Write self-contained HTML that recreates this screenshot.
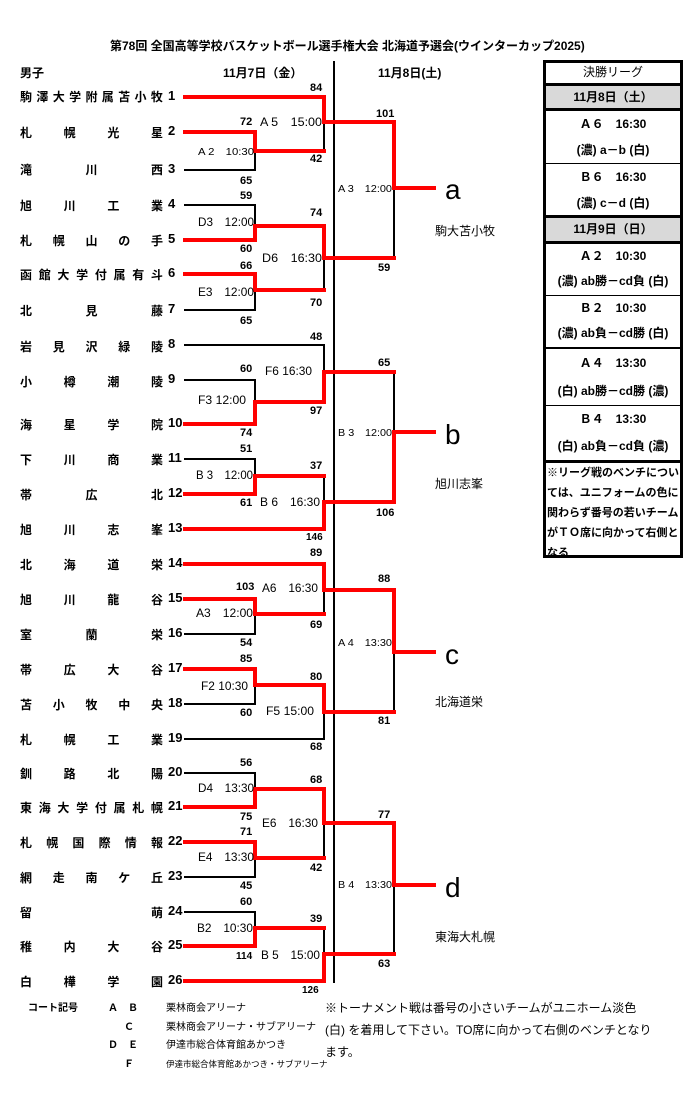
<!DOCTYPE html>
<html><head><meta charset="utf-8">
<style>
body{margin:0;background:#fff;}
#w{position:relative;width:700px;height:1100px;overflow:hidden;font-family:"Liberation Sans","Noto Sans CJK JP",sans-serif;color:#000;}
.nm{position:absolute;left:20px;width:143px;display:flex;justify-content:space-between;font-size:12px;font-weight:bold;line-height:14px;}
.nb{position:absolute;left:168px;font-size:13px;font-weight:bold;line-height:14px;}
.t{position:absolute;font-size:12px;white-space:nowrap;}
#tb{position:absolute;left:543px;top:60px;width:134px;border:3px solid #000;}
#tb div{text-align:center;font-size:12px;}
</style></head><body><div id="w">
<div class="t" style="left:110px;top:37px;font-size:12px;font-weight:bold;">第78回 全国高等学校バスケットボール選手権大会 北海道予選会(ウインターカップ2025)</div>
<div class="t" style="left:20px;top:64px;font-weight:bold;">男子</div>
<div class="t" style="left:223px;top:64px;font-weight:bold;">11月7日（金）</div>
<div class="t" style="left:378px;top:64px;font-weight:bold;">11月8日(土)</div>

<div id="tb">
<div style="height:20px;line-height:18px;border-bottom:3px solid #000;">決勝リーグ</div>
<div style="height:22px;line-height:22px;background:#d9d9d9;font-weight:bold;border-bottom:3px solid #000;">11月8日（土）</div>
<div style="height:52px;border-bottom:1px solid #000;font-weight:bold;line-height:26px;">Ａ６　16:30<br>(濃) a－b (白)</div>
<div style="height:51px;border-bottom:3px solid #000;font-weight:bold;line-height:26px;">Ｂ６　16:30<br>(濃) c－d (白)</div>
<div style="height:23px;line-height:23px;background:#d9d9d9;font-weight:bold;border-bottom:3px solid #000;">11月9日（日）</div>
<div style="height:51px;border-bottom:1px solid #000;font-weight:bold;line-height:25px;">Ａ２　10:30<br>(濃) ab勝－cd負 (白)</div>
<div style="height:51px;border-bottom:2px solid #000;font-weight:bold;line-height:25px;">Ｂ２　10:30<br>(濃) ab負－cd勝 (白)</div>
<div style="height:56px;border-bottom:1px solid #000;font-weight:bold;line-height:28px;">Ａ４　13:30<br>(白) ab勝－cd勝 (濃)</div>
<div style="height:54px;border-bottom:3px solid #000;font-weight:bold;line-height:27px;">Ｂ４　13:30<br>(白) ab負－cd負 (濃)</div>
<div style="height:92px;text-align:left;font-size:11px;font-weight:bold;line-height:20px;padding-left:1px;">※リーグ戦のベンチについては、ユニフォームの色に関わらず番号の若いチームがＴＯ席に向かって右側となる</div>
</div>

<svg width="700" height="1100" style="position:absolute;left:0;top:0" font-family="Liberation Sans, Noto Sans CJK JP, sans-serif" font-size="11" font-weight="bold">
<g fill="none" stroke-linecap="square">
<line x1="334" y1="62" x2="334" y2="982" stroke="#000" stroke-width="2"/>
<g stroke="#000" stroke-width="2">
<path d="M185 170H255V151M324 122V151"/>
<path d="M185 205H255V226M324 258V290M185 310H255V290"/>
<path d="M394 188V258"/>
<path d="M185 345H324V372M185 380H255V402"/>
<path d="M185 459H255V476M324 476V502M394 372V432"/>
<path d="M324 590V614M185 634H255V614M185 704H255V685M185 739H324V712M394 652V712"/>
<path d="M185 773H255V789M324 823V858M185 877H255V858M394 885V954M185 912H255V928M324 928V954"/>
</g>
<g stroke="#f00" stroke-width="4">
<path d="M185 97H324V122H394V188H434"/>
<path d="M185 132H255V151H324"/>
<path d="M185 240H255V226H324V258H394"/>
<path d="M185 274H255V290H324"/>
<path d="M185 424H255V402H324V372H394"/>
<path d="M394 432H434M394 432V502"/>
<path d="M185 494H255V476H324"/>
<path d="M185 529H324V502H394"/>
<path d="M185 564H324V590H394V652H434"/>
<path d="M185 599H255V614H324"/>
<path d="M185 669H255V685H324V712H394"/>
<path d="M185 807H255V789H324V823H394V885H434"/>
<path d="M185 842H255V858H324"/>
<path d="M185 946H255V928H324"/>
<path d="M185 981H324V954H394"/>
</g>
</g>
<g fill="#000">
<text x="310" y="91">84</text>
<text x="240" y="125">72</text>
<text x="310" y="162">42</text>
<text x="240" y="184">65</text><text x="240" y="199">59</text>
<text x="310" y="216">74</text>
<text x="240" y="252">60</text>
<text x="240" y="269">66</text>
<text x="310" y="306">70</text>
<text x="240" y="324">65</text>
<text x="376" y="117">101</text><text x="378" y="271">59</text>
<text x="310" y="340">48</text>
<text x="240" y="372">60</text>
<text x="310" y="414">97</text>
<text x="240" y="436">74</text>
<text x="240" y="452">51</text>
<text x="310" y="469">37</text>
<text x="240" y="506">61</text>
<text x="306" y="540" font-size="10">146</text>
<text x="378" y="366">65</text><text x="376" y="516">106</text>
<text x="310" y="556">89</text>
<text x="236" y="590">103</text>
<text x="310" y="628">69</text>
<text x="240" y="646">54</text><text x="240" y="662">85</text>
<text x="310" y="680">80</text>
<text x="240" y="716">60</text>
<text x="310" y="750">68</text>
<text x="378" y="582">88</text><text x="378" y="724">81</text>
<text x="240" y="766">56</text>
<text x="310" y="783">68</text>
<text x="240" y="820">75</text>
<text x="240" y="835">71</text>
<text x="310" y="871">42</text>
<text x="240" y="889">45</text><text x="240" y="905">60</text>
<text x="310" y="922">39</text>
<text x="236" y="959" font-size="10">114</text>
<text x="302" y="993" font-size="10">126</text>
<text x="378" y="818">77</text><text x="378" y="967">63</text>
</g>
<g font-weight="normal" font-size="12" lengthAdjust="spacingAndGlyphs">
<text x="260" y="126" textLength="62" lengthAdjust="spacingAndGlyphs">A 5　15:00</text>
<text x="198" y="155" font-size="10" textLength="56" lengthAdjust="spacingAndGlyphs">A 2　10:30</text>
<text x="198" y="226" textLength="56" lengthAdjust="spacingAndGlyphs">D3　12:00</text>
<text x="262" y="262" textLength="60" lengthAdjust="spacingAndGlyphs">D6　16:30</text>
<text x="198" y="296" textLength="56" lengthAdjust="spacingAndGlyphs">E3　12:00</text>
<text x="338" y="192" font-size="10" textLength="54" lengthAdjust="spacingAndGlyphs">A 3　12:00</text>
<text x="265" y="375" textLength="47" lengthAdjust="spacingAndGlyphs">F6 16:30</text>
<text x="198" y="404" textLength="48" lengthAdjust="spacingAndGlyphs">F3 12:00</text>
<text x="196" y="479" textLength="57" lengthAdjust="spacingAndGlyphs">B 3　12:00</text>
<text x="260" y="506" textLength="60" lengthAdjust="spacingAndGlyphs">B 6　16:30</text>
<text x="338" y="436" font-size="10" textLength="54" lengthAdjust="spacingAndGlyphs">B 3　12:00</text>
<text x="262" y="592" textLength="56" lengthAdjust="spacingAndGlyphs">A6　16:30</text>
<text x="196" y="617" textLength="57" lengthAdjust="spacingAndGlyphs">A3　12:00</text>
<text x="201" y="690" textLength="47" lengthAdjust="spacingAndGlyphs">F2 10:30</text>
<text x="266" y="715" textLength="48" lengthAdjust="spacingAndGlyphs">F5 15:00</text>
<text x="338" y="646" font-size="10" textLength="54" lengthAdjust="spacingAndGlyphs">A 4　13:30</text>
<text x="198" y="792" textLength="56" lengthAdjust="spacingAndGlyphs">D4　13:30</text>
<text x="262" y="827" textLength="56" lengthAdjust="spacingAndGlyphs">E6　16:30</text>
<text x="198" y="861" textLength="56" lengthAdjust="spacingAndGlyphs">E4　13:30</text>
<text x="197" y="932" textLength="56" lengthAdjust="spacingAndGlyphs">B2　10:30</text>
<text x="261" y="959" textLength="59" lengthAdjust="spacingAndGlyphs">B 5　15:00</text>
<text x="338" y="888" font-size="10" textLength="54" lengthAdjust="spacingAndGlyphs">B 4　13:30</text>
</g>
<g font-weight="normal" font-size="28">
<text x="445" y="199">a</text><text x="445" y="444">b</text><text x="445" y="664">c</text><text x="445" y="897">d</text>
</g>
<g font-weight="normal" font-size="12">
<text x="435" y="235">駒大苫小牧</text><text x="435" y="488">旭川志峯</text><text x="435" y="706">北海道栄</text><text x="435" y="941">東海大札幌</text>
</g>
<g font-size="10">
<text x="28" y="1011">コート記号</text>
<text x="108" y="1011">Ａ　Ｂ</text><text x="124" y="1030">Ｃ</text><text x="108" y="1048">Ｄ　Ｅ</text><text x="124" y="1067">Ｆ</text>
<text x="166" y="1011" font-weight="normal">栗林商会アリーナ</text>
<text x="166" y="1030" font-weight="normal">栗林商会アリーナ・サブアリーナ</text>
<text x="166" y="1048" font-weight="normal">伊達市総合体育館あかつき</text>
<text x="166" y="1067" font-size="8.5" font-weight="normal">伊達市総合体育館あかつき・サブアリーナ</text>
</g>
<g font-size="12" font-weight="normal">
<text x="325" y="1012">※トーナメント戦は番号の小さいチームがユニホーム淡色</text>
<text x="325" y="1034">(白) を着用して下さい。TO席に向かって右側のベンチとなり</text>
<text x="325" y="1056">ます。</text>
</g>
</svg>

<div class="nm" style="top:90px"><span>駒</span><span>澤</span><span>大</span><span>学</span><span>附</span><span>属</span><span>苫</span><span>小</span><span>牧</span></div><div class="nb" style="top:89px">1</div>
<div class="nm" style="top:126px"><span>札</span><span>幌</span><span>光</span><span>星</span></div><div class="nb" style="top:124px">2</div>
<div class="nm" style="top:163px"><span>滝</span><span>川</span><span>西</span></div><div class="nb" style="top:162px">3</div>
<div class="nm" style="top:199px"><span>旭</span><span>川</span><span>工</span><span>業</span></div><div class="nb" style="top:197px">4</div>
<div class="nm" style="top:234px"><span>札</span><span>幌</span><span>山</span><span>の</span><span>手</span></div><div class="nb" style="top:232px">5</div>
<div class="nm" style="top:268px"><span>函</span><span>館</span><span>大</span><span>学</span><span>付</span><span>属</span><span>有</span><span>斗</span></div><div class="nb" style="top:266px">6</div>
<div class="nm" style="top:304px"><span>北</span><span>見</span><span>藤</span></div><div class="nb" style="top:302px">7</div>
<div class="nm" style="top:340px"><span>岩</span><span>見</span><span>沢</span><span>緑</span><span>陵</span></div><div class="nb" style="top:337px">8</div>
<div class="nm" style="top:375px"><span>小</span><span>樽</span><span>潮</span><span>陵</span></div><div class="nb" style="top:372px">9</div>
<div class="nm" style="top:418px"><span>海</span><span>星</span><span>学</span><span>院</span></div><div class="nb" style="top:416px">10</div>
<div class="nm" style="top:453px"><span>下</span><span>川</span><span>商</span><span>業</span></div><div class="nb" style="top:451px">11</div>
<div class="nm" style="top:488px"><span>帯</span><span>広</span><span>北</span></div><div class="nb" style="top:486px">12</div>
<div class="nm" style="top:523px"><span>旭</span><span>川</span><span>志</span><span>峯</span></div><div class="nb" style="top:521px">13</div>
<div class="nm" style="top:558px"><span>北</span><span>海</span><span>道</span><span>栄</span></div><div class="nb" style="top:556px">14</div>
<div class="nm" style="top:593px"><span>旭</span><span>川</span><span>龍</span><span>谷</span></div><div class="nb" style="top:591px">15</div>
<div class="nm" style="top:628px"><span>室</span><span>蘭</span><span>栄</span></div><div class="nb" style="top:626px">16</div>
<div class="nm" style="top:663px"><span>帯</span><span>広</span><span>大</span><span>谷</span></div><div class="nb" style="top:661px">17</div>
<div class="nm" style="top:698px"><span>苫</span><span>小</span><span>牧</span><span>中</span><span>央</span></div><div class="nb" style="top:696px">18</div>
<div class="nm" style="top:733px"><span>札</span><span>幌</span><span>工</span><span>業</span></div><div class="nb" style="top:731px">19</div>
<div class="nm" style="top:767px"><span>釧</span><span>路</span><span>北</span><span>陽</span></div><div class="nb" style="top:765px">20</div>
<div class="nm" style="top:801px"><span>東</span><span>海</span><span>大</span><span>学</span><span>付</span><span>属</span><span>札</span><span>幌</span></div><div class="nb" style="top:799px">21</div>
<div class="nm" style="top:836px"><span>札</span><span>幌</span><span>国</span><span>際</span><span>情</span><span>報</span></div><div class="nb" style="top:834px">22</div>
<div class="nm" style="top:871px"><span>網</span><span>走</span><span>南</span><span>ケ</span><span>丘</span></div><div class="nb" style="top:869px">23</div>
<div class="nm" style="top:906px"><span>留</span><span>萌</span></div><div class="nb" style="top:904px">24</div>
<div class="nm" style="top:940px"><span>稚</span><span>内</span><span>大</span><span>谷</span></div><div class="nb" style="top:938px">25</div>
<div class="nm" style="top:975px"><span>白</span><span>樺</span><span>学</span><span>園</span></div><div class="nb" style="top:973px">26</div>
</div></body></html>
